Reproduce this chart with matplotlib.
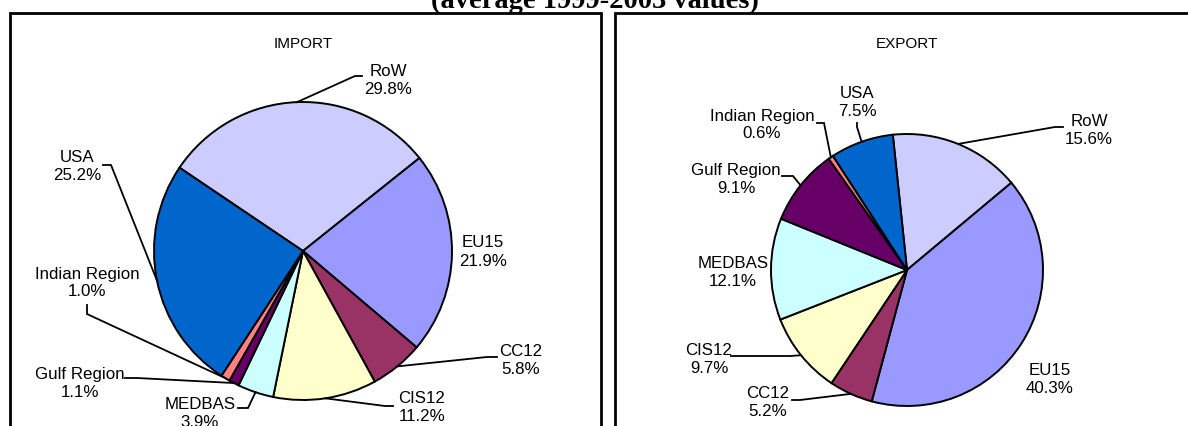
import matplotlib
matplotlib.use("Agg")
import matplotlib.pyplot as plt
from matplotlib.patches import Rectangle
import numpy as np

plt.rcParams['font.family'] = ['Liberation Sans', 'DejaVu Sans']

# data (shares in %), clockwise order from the first slice
regions = ['RoW', 'EU15', 'CC12', 'CIS12', 'MEDBAS', 'Gulf Region', 'Indian Region', 'USA']
import_share = [29.8, 21.9, 5.8, 11.2, 3.9, 1.1, 1.0, 25.2]
export_share = [15.6, 40.3, 5.2, 9.7, 12.1, 9.1, 0.6, 7.5]
colors = ['#CCCCFF', '#9999FF', '#993366', '#FFFFCC', '#CCFFFF', '#660066', '#FF8080', '#0066CC']
title = '(average 1999-2003 values)'

W, H = 1188, 427

# layout in pixels (y measured from top): label centre, leader knee, leader end
import_layout = {
    'RoW': ((388, 81), (355, 77), (362, 77)),
    'EU15': ((483, 252), None, None),
    'CC12': ((521, 361), (487, 358), (497, 358)),
    'CIS12': ((422, 408), (385, 407), (393, 407)),
    'MEDBAS': ((200, 414), (248, 409), (238, 409)),
    'Gulf Region': ((80, 384), (137, 379), (125, 379)),
    'Indian Region': ((87, 283), (87, 315), (87, 306)),
    'USA': ((77, 167), (111, 166), (103, 166)),
}
export_layout = {
    'RoW': ((1089, 130), (1055, 128), (1063, 128)),
    'EU15': ((1050, 380), None, None),
    'CC12': ((768, 403), (800, 401), (792, 401)),
    'CIS12': ((709, 360), (790, 357), (731, 357)),
    'MEDBAS': ((733, 272), None, None),
    'Gulf Region': ((736, 180), (793, 177), (782, 177)),
    'Indian Region': ((762, 125), (824, 124), (817, 124)),
    'USA': ((857, 102), (857, 128), (857, 124)),
}

fig = plt.figure(figsize=(W / 100, H / 100), dpi=100)
ax = fig.add_axes([0, 0, 1, 1])


def draw_pie(values, center, radius, start, layout, name):
    cx, cy = center[0], H - center[1]
    wedges, _ = ax.pie(values, colors=colors, startangle=start, counterclock=False,
                       center=(cx, cy), radius=radius,
                       wedgeprops=dict(edgecolor='black', linewidth=1.4))
    for w, reg, val in zip(wedges, regions, values):
        (lx, ly), knee, end = layout[reg]
        ax.text(lx, H - ly, f'{reg}\n{val:.1f}%', ha='center', va='center',
                fontsize=12.2, linespacing=1.25, color='black')
        if knee is not None:
            mid = np.deg2rad((w.theta1 + w.theta2) / 2)
            ax_x = cx + radius * np.cos(mid)
            ax_y = cy + radius * np.sin(mid)
            ax.plot([ax_x, knee[0], end[0]], [ax_y, H - knee[1], H - end[1]],
                    color='black', lw=1.3, solid_joinstyle='miter')
    ax.text(center[0], H - 44, name, ha='center', va='center', fontsize=11)


draw_pie(import_share, (303, 252), 149, 146, import_layout, 'IMPORT')
draw_pie(export_share, (907, 271), 136, 96, export_layout, 'EXPORT')

# panel frames
ax.add_patch(Rectangle((10, -10), 591, H - 14 + 10, fill=False, lw=2, edgecolor='black'))
ax.add_patch(Rectangle((615, -10), 700, H - 14 + 10, fill=False, lw=2, edgecolor='black',
                       clip_on=True))

# title sits mostly above the top edge, only its lower part shows
ax.text(595, H - 8, title, ha='center', va='baseline', fontsize=20.5,
        fontweight='bold', family='Liberation Serif')

ax.set_xlim(0, W)
ax.set_ylim(0, H)
ax.set_aspect('auto')
ax.axis('off')

fig.savefig('out.png', dpi=100)
